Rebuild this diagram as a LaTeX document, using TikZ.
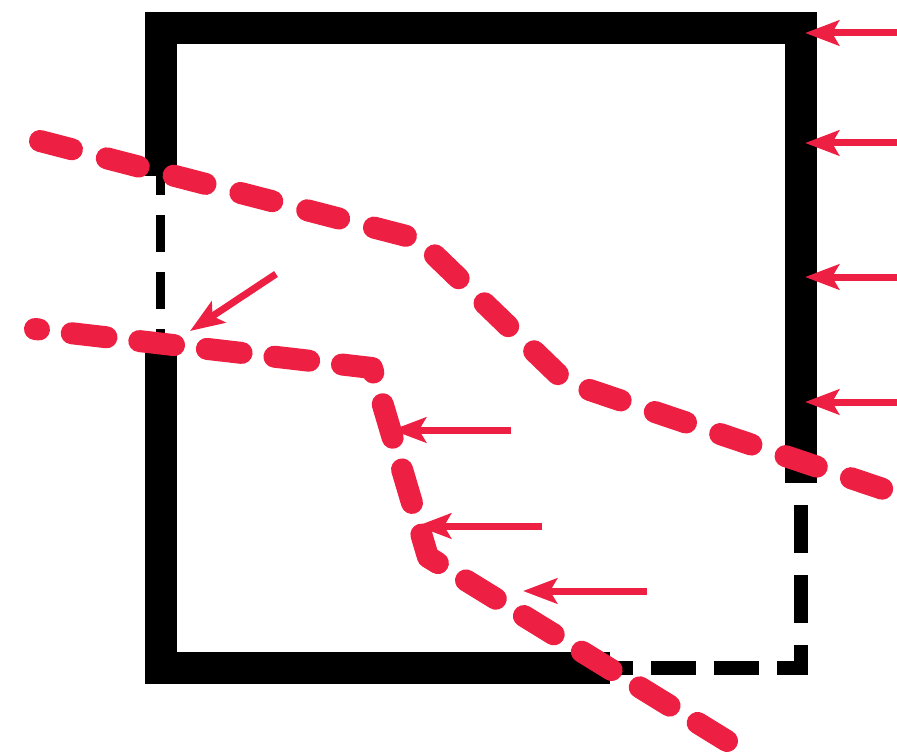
\documentclass[tikz,border=0pt]{standalone}
\usetikzlibrary{arrows.meta}
\definecolor{crimson}{RGB}{237,31,66}
\begin{document}
\begin{tikzpicture}[x=1pt,y=-1pt,
  wall/.style={line width=32pt, line join=miter, line cap=butt},
  thinwall/.style={line width=14pt, line join=miter, line cap=butt},
  route/.style={crimson, line width=22pt, line cap=round, line join=round},
  push/.style={crimson, line width=7pt, -{Stealth[length=34pt,width=25pt,inset=7pt]}}]
\useasboundingbox (0,0) rectangle (897,754);
% wall coordinates
\coordinate (tlA) at (160.5,176);
\coordinate (tl) at (160.5,28);
\coordinate (tr) at (801,28);
\coordinate (rA) at (801,483);
\coordinate (cR) at (801,645);
\coordinate (br) at (801,668);
\coordinate (cB) at (777,668);
\coordinate (bA) at (610,668);
\coordinate (bl) at (160.5,668);
\coordinate (lA) at (160.5,348);
% thick walls
\draw[wall] (tlA) -- (tl) -- (tr) -- (rA);
\draw[wall] (lA) -- (bl) -- (bA);
% dashed walls
\draw[line width=9pt, line cap=butt, dash pattern=on 37pt off 20pt, dash phase=18pt] (tlA) -- (lA);
\draw[thinwall, dash pattern=on 48pt off 22pt, dash phase=48pt] (rA) -- (cR);
\draw[thinwall] (cR) -- (br) -- (cB);
\draw[thinwall, dash pattern=on 45pt off 18pt, dash phase=45pt] (cB) -- (bA);
% red routes
\coordinate (p1) at (40,141);
\coordinate (p2) at (418,239);
\coordinate (p3) at (566,382);
\coordinate (p4) at (883,489);
\draw[route, dash pattern=on 33pt off 36pt] (p1) -- (p2) -- (p3) -- (p4);
\coordinate (q1) at (35,329);
\coordinate (q2) at (372,368);
\coordinate (q3) at (428,557);
\coordinate (q4) at (727,741);
\draw[route, dash pattern=on 35pt off 33pt, dash phase=31pt] (q1) -- (q2) -- (q3) -- (q4);
% arrows
\coordinate (r1s) at (897,33);  \coordinate (r1e) at (805,33);
\coordinate (r2s) at (897,143); \coordinate (r2e) at (805,143);
\coordinate (r3s) at (897,277); \coordinate (r3e) at (805,277);
\coordinate (r4s) at (897,402); \coordinate (r4e) at (805,402);
\coordinate (d1s) at (276,274); \coordinate (d1e) at (190,331);
\coordinate (h1s) at (511,430); \coordinate (h1e) at (392,430);
\coordinate (h2s) at (542,526); \coordinate (h2e) at (417,526);
\coordinate (h3s) at (647,591); \coordinate (h3e) at (523,591);
\draw[push] (r1s) -- (r1e);
\draw[push] (r2s) -- (r2e);
\draw[push] (r3s) -- (r3e);
\draw[push] (r4s) -- (r4e);
\draw[push] (d1s) -- (d1e);
\draw[push] (h1s) -- (h1e);
\draw[push] (h2s) -- (h2e);
\draw[push] (h3s) -- (h3e);
\end{tikzpicture}
\end{document}
